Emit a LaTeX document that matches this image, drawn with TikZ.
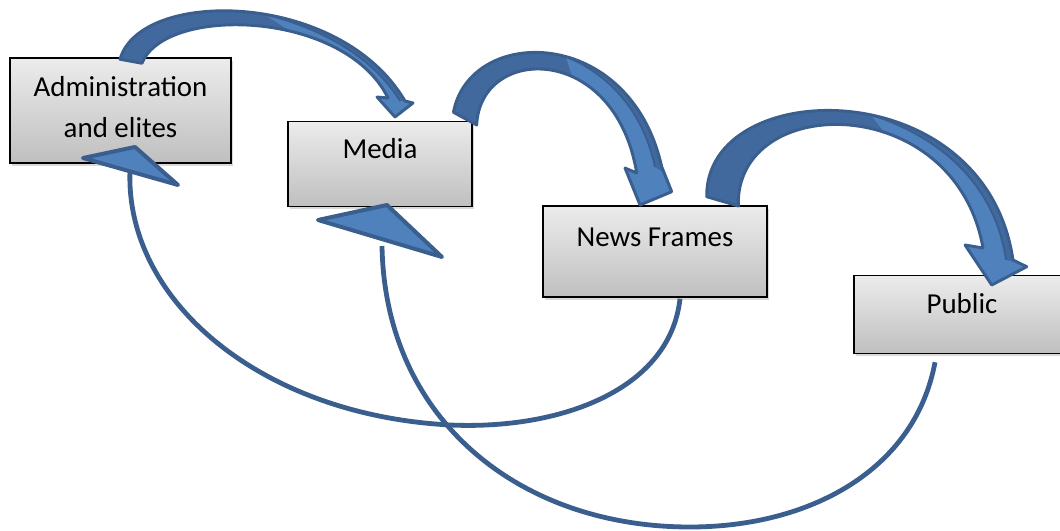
\documentclass[tikz,border=0pt]{standalone}
\usepackage{fontspec}
\setmainfont{Carlito}
\usepackage{tikz}
\usetikzlibrary{calc,shadows}
\definecolor{cline}{HTML}{3A5F8E}
\definecolor{cface}{HTML}{4F81BD}
\definecolor{cback}{HTML}{41699E}
\tikzset{
  box/.style={rectangle,draw=black,line width=1.1pt,top color=gray!15,bottom color=gray!50,
    drop shadow={shadow xshift=1.6pt,shadow yshift=-2.2pt,opacity=0.3},
    inner sep=0pt,align=center,text height=15pt,font=\fontsize{21.7}{30.5}\selectfont},
  band/.style={fill=cback},
  bandline/.style={draw=cline,line width=2.2pt,line join=round},
  twist/.style={draw=cline,line width=1.4pt},
  feedback/.style={draw=cline,line width=3.6pt},
  wedge/.style={fill=cface,draw=cline,line width=3pt,line join=round},
}

\begin{document}
\begin{tikzpicture}[x=0.75pt,y=-0.75pt]
  \useasboundingbox (0,0) rectangle (1060,531);
  \clip (0,0) rectangle (1060,531);

  % the four actors
  \node[box,minimum width=165.75pt,minimum height=78.75pt,text height=45.5pt,text depth=5.3pt] (admin) at (120.5,110.5) {Administration\\and elites};
  \node[box,minimum width=138pt,minimum height=63.75pt,text depth=22.3pt] (media) at (380,163.8) {Media};
  \node[box,minimum width=168pt,minimum height=68.25pt,text depth=23.1pt] (news) at (655,251.5) {News Frames};
  \node[box,minimum width=162pt,minimum height=58.5pt,text depth=16.35pt] (public) at (962,314.5) {Public};

  % feedback lines
  \draw[feedback] ($(news.south)+(25,1)$) .. controls (670,390) and (560,430) .. (450,425)
    .. controls (260,415) and (125,300) .. ($(admin.south)+(9.5,7)$);
  \draw[feedback] ($(public.south)+(-27,8)$) .. controls (915,470) and (810,527) .. (690,527)
    .. controls (520,527) and (385,420) .. ($(media.south)+(2,39)$);
  \draw[wedge] (83,158) -- (135,147) -- (178,185) -- cycle;
  \draw[wedge] (318,220) -- (387,205) -- (442,257) -- cycle;

  % admin -> media
  \path[save path=\arrowA] ($(admin.north)+(-0.5,2)$) .. controls (140,-12) and (340,-10) .. (405,101)
    -- (413,103) -- (395,117) -- (377,97) -- (388,98)
    .. controls (345,10) and (165,5) .. ($(admin.north)+(21.5,6)$) -- cycle;
  \fill[band,use path=\arrowA];
  \begin{scope}
    \clip[use path=\arrowA];
    \fill[cface] (264,14.2) .. controls (317,27) and (371,54) .. (400,101)
      -- (430,103) -- (430,140) -- (290,140) -- (290,31) -- cycle;
  \end{scope}
  \draw[twist] (264,14.2) .. controls (317,27) and (371,54) .. (400,101);
  \path[bandline,use path=\arrowA];

  % media -> news
  \path[save path=\arrowB] ($(media.north east)+(-19.3,-8.3)$) .. controls (470,25) and (630,25) .. (661.7,166.7)
    -- (671.7,191.7) -- (640,205) -- (625,168) -- (636.7,173)
    .. controls (615,42) and (480,45) .. (476.7,125) -- cycle;
  \fill[band,use path=\arrowB];
  \begin{scope}
    \clip[use path=\arrowB];
    \fill[cface] (565.7,56.6) .. controls (604,72) and (642,106) .. (655,167)
      -- (690,190) -- (690,230) -- (572,230) -- (572,76) -- cycle;
  \end{scope}
  \draw[twist] (565.7,56.6) .. controls (604,72) and (642,106) .. (655,167);
  \path[bandline,use path=\arrowB];

  % news -> public
  \path[save path=\arrowC] (706.7,196.7) .. controls (705,75) and (985,70) .. (1013,260)
    -- (1026.7,266.7) -- (991.7,285) -- (965,245) -- (983,248)
    .. controls (955,90) and (735,92) .. ($(news.north)+(83.3,0.7)$) -- cycle;
  \fill[band,use path=\arrowC];
  \begin{scope}
    \clip[use path=\arrowC];
    \fill[cface] (870.8,114.8) .. controls (932,134) and (994,178) .. (1006,260)
      -- (1040,268) -- (1040,310) -- (884,310) -- (884,132) -- cycle;
  \end{scope}
  \draw[twist] (870.8,114.8) .. controls (932,134) and (994,178) .. (1006,260);
  \path[bandline,use path=\arrowC];
\end{tikzpicture}
\end{document}
